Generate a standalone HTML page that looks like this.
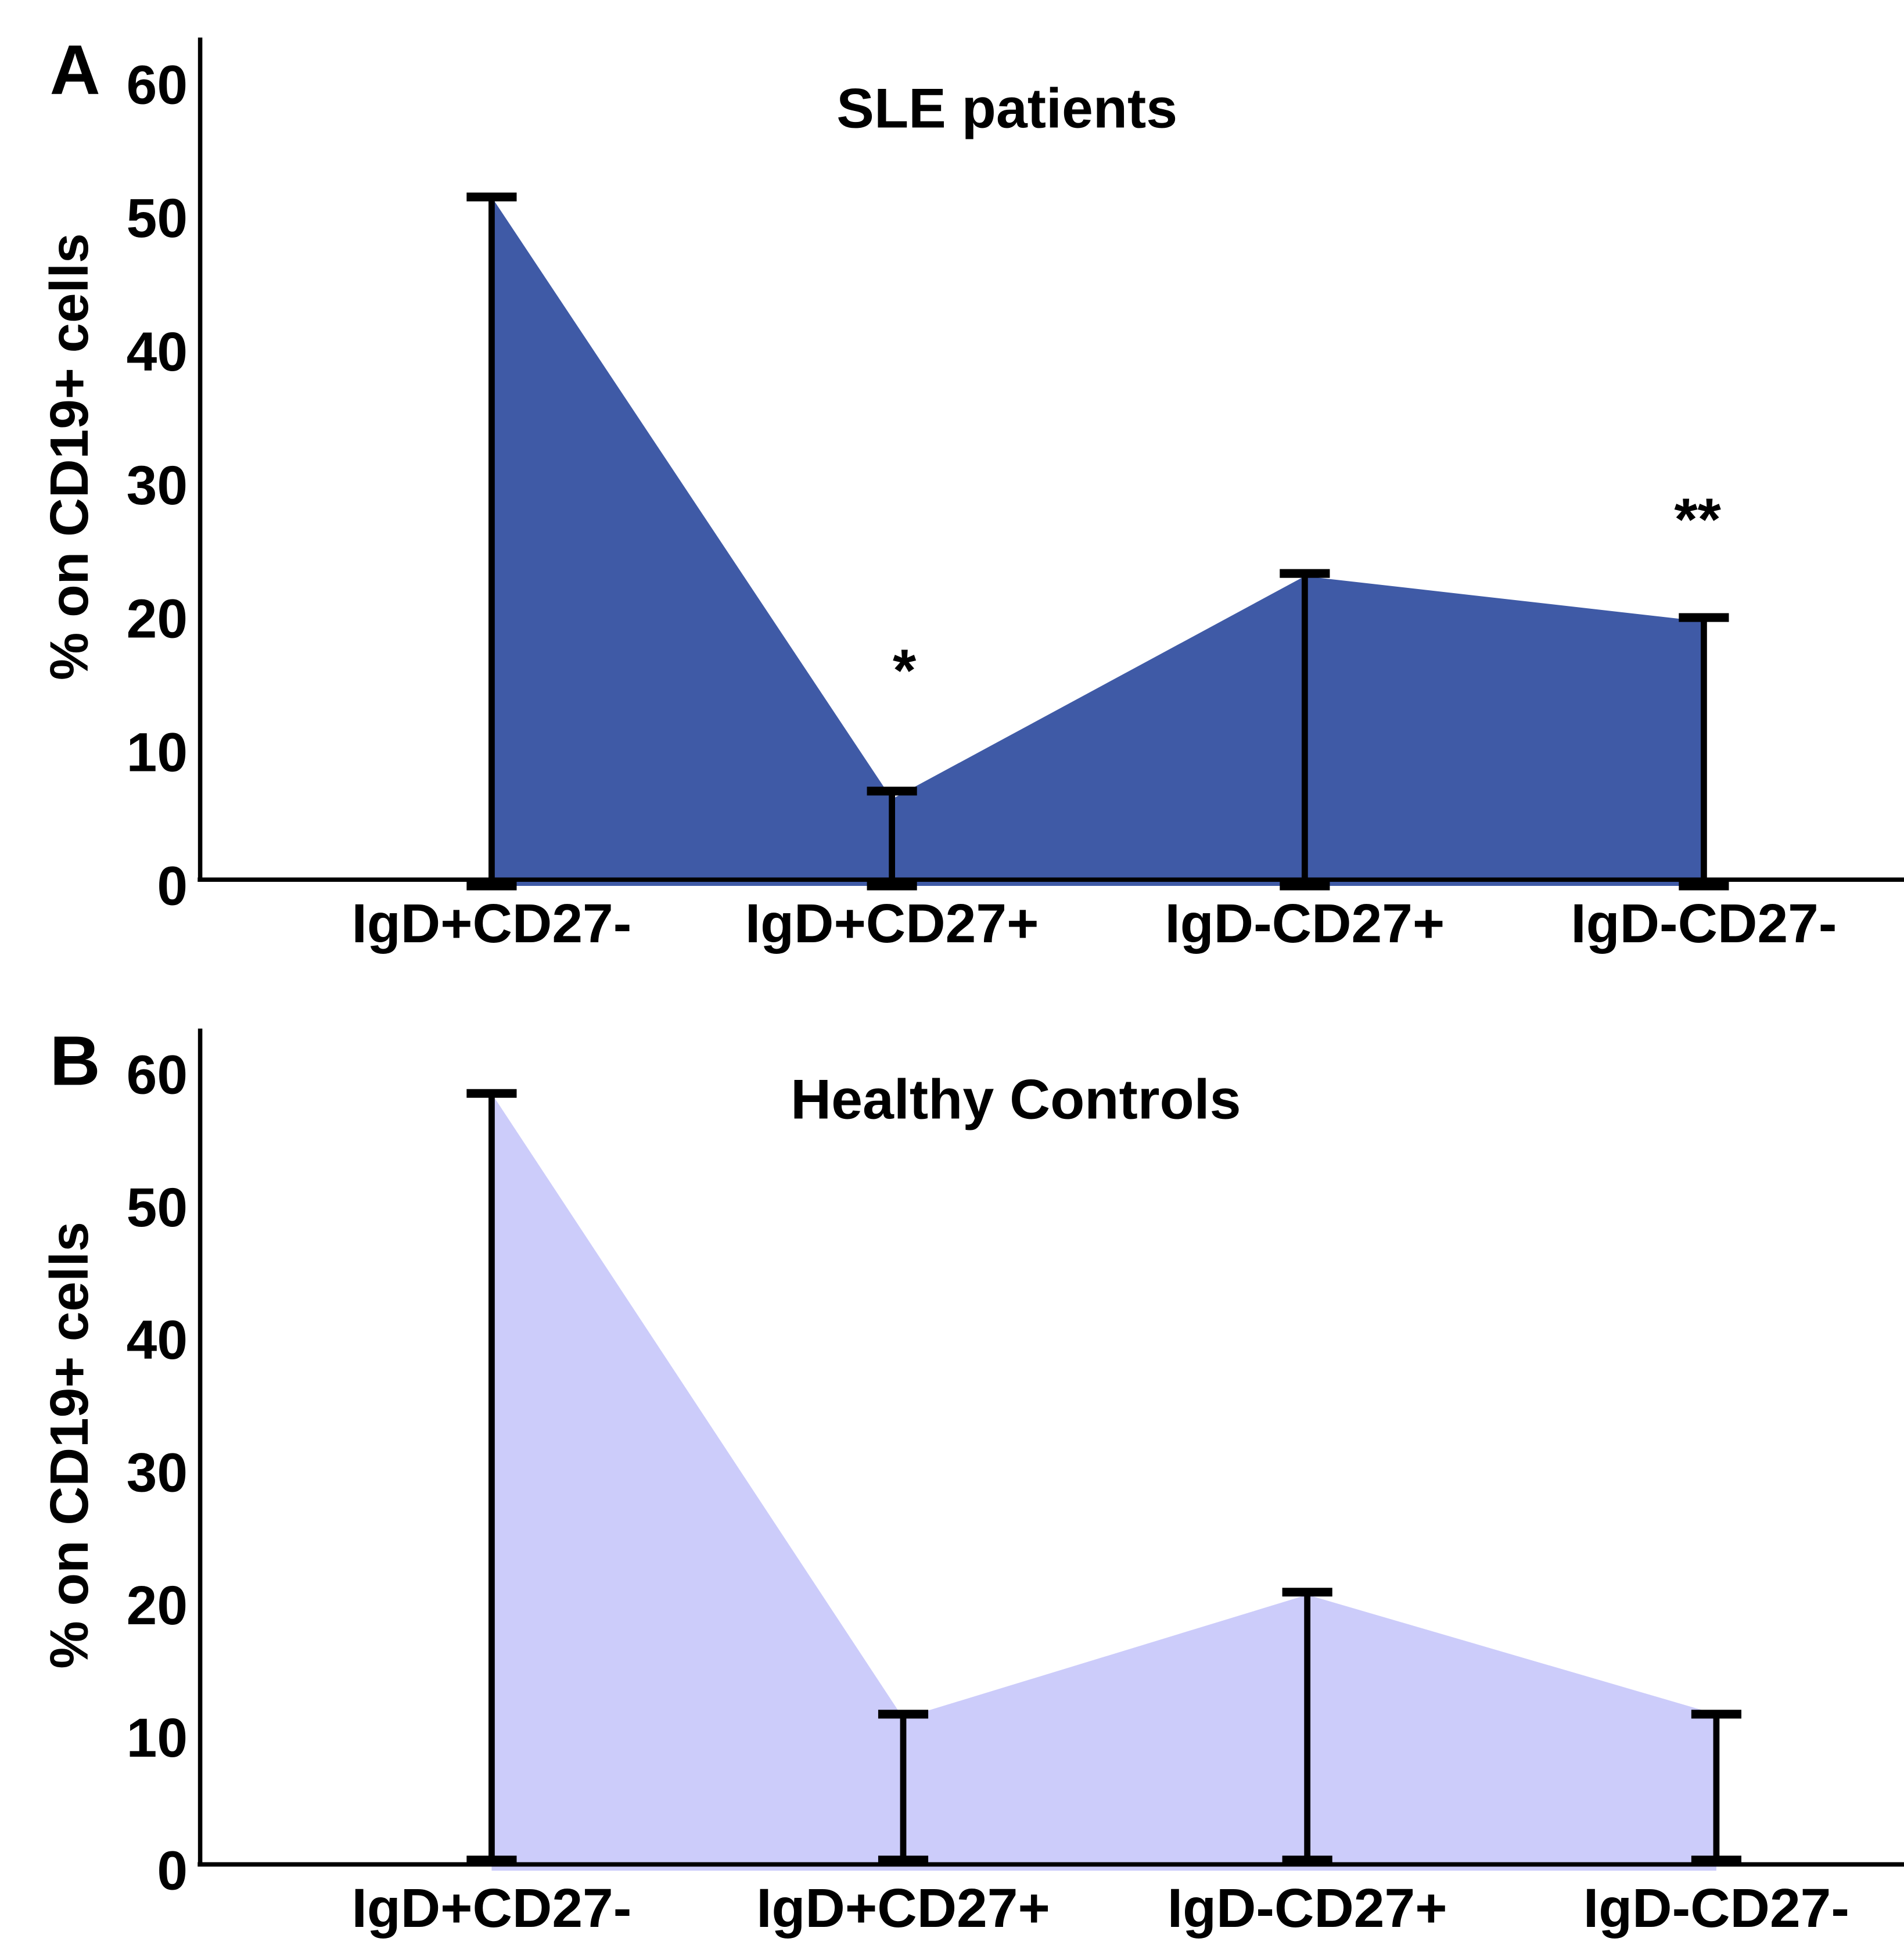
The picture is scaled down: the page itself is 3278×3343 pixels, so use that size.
<!DOCTYPE html>
<html><head><meta charset="utf-8"><style>
html,body{margin:0;padding:0;background:#fff}
svg{display:block}
text{font-family:"Liberation Sans",Arial,sans-serif;font-weight:bold;fill:#000}
</style></head><body>
<svg id="fig" width="3278" height="3343" viewBox="0 0 1522 1552" preserveAspectRatio="none" xmlns="http://www.w3.org/2000/svg"></svg>
<script>
const categories = ["IgD+CD27-","IgD+CD27+","IgD-CD27+","IgD-CD27-"];
const yTicks = [0,10,20,30,40,50,60];
const sleMeans = [51.6, 6.5, 23.2, 19.8];
const sleErrTop = [51.6, 7.1, 23.4, 20.1];
const sleErrBottom = [0, 0, 0, 0];
const hcMeans = [58.6, 11.5, 20.8, 11.8];
const hcErrTop = [58.6, 11.8, 21.0, 11.8];
const hcErrBottom = [0.8, 0.8, 0.8, 0.8];
const sleStars = ["", "*", "", "**"];
const hcStars = ["", "", "", ""];

const NS="http://www.w3.org/2000/svg";
const svg=document.getElementById('fig');
function mk(tag,attrs,parent){const e=document.createElementNS(NS,tag);for(const k in attrs)e.setAttribute(k,attrs[k]);(parent||svg).appendChild(e);return e;}

function panel(cfg){
  const g=mk('g',{});
  
  
  const y=v=>cfg.y0 - v*cfg.unit;
  const x=i=>cfg.xs[i];
  let d='M'+x(0)+','+y(0);
  cfg.means.forEach((m,i)=>{d+=' L'+x(i)+','+y(m);});
  d+=' L'+x(cfg.means.length-1)+','+y(0)+' Z';
  const area=mk('path',{d:d,fill:cfg.color},g);
  
  
  const ya=mk('line',{x1:160,y1:cfg.top,x2:160,y2:cfg.base,stroke:'#000','stroke-width':3.5},g);
  
  
  const xa=mk('line',{x1:158,y1:cfg.base,x2:1522,y2:cfg.base,stroke:'#000','stroke-width':3.5},g);
  
  
  yTicks.forEach(t=>{
    const tx=mk('text',{x:150,y:y(t)+15,'text-anchor':'end','font-size':44},g);
    tx.textContent=t;
    
    
  });
  categories.forEach((c,i)=>{
    const tx=mk('text',{x:x(i),y:cfg.base+50,'text-anchor':'middle','font-size':44},g);
    tx.textContent=c;
    
    
    const top=y(cfg.errTop[i]), bot=y(cfg.errBottom[i]);
    const eb=mk('path',{d:`M${x(i)},${top} L${x(i)},${bot}`,stroke:'#000','stroke-width':5,fill:'none'},g);
    
    
    const caps=mk('path',{d:`M${x(i)-20},${top} L${x(i)+20},${top} M${x(i)-20},${bot} L${x(i)+20},${bot}`,stroke:'#000','stroke-width':7,fill:'none'},g);
    
    
    if(cfg.stars[i]){
      const s=mk('text',{x:x(i)+(cfg.stars[i].length>1?-5:10),y:top-(cfg.stars[i].length>1?62:80),'text-anchor':'middle','font-size':48},g);
      s.textContent=cfg.stars[i];
      
      
    }
  });
  const ti=mk('text',{x:cfg.titleX,y:cfg.titleY,'text-anchor':'middle','font-size':45},g);
  ti.textContent=cfg.title;
  
  
  const lab=mk('text',{x:60,y:cfg.top+45,'text-anchor':'middle','font-size':56},g);
  lab.textContent=cfg.letter;
  
  
  const yl=mk('text',{x:0,y:0,'text-anchor':'middle','font-size':43,transform:`translate(70,${cfg.yLabelY}) rotate(-90)`},g);
  yl.textContent='% on CD19+ cells';
  
  
}

panel({name:'panel-a-sle',letter:'A',title:'SLE patients',titleX:805,titleY:102,top:30,base:703,y0:708,unit:10.67,
  xs:[393,713,1043,1362],means:sleMeans,errTop:sleErrTop,errBottom:sleErrBottom,stars:sleStars,color:'#3F5AA6',yLabelY:365});
panel({name:'panel-b-healthy',letter:'B',title:'Healthy Controls',titleX:812,titleY:894,top:822,base:1490,y0:1495,unit:10.6,
  xs:[393,722,1045,1372],means:hcMeans,errTop:hcErrTop,errBottom:hcErrBottom,stars:hcStars,color:'#CCCCFA',yLabelY:1155});
</script>
</body></html>
